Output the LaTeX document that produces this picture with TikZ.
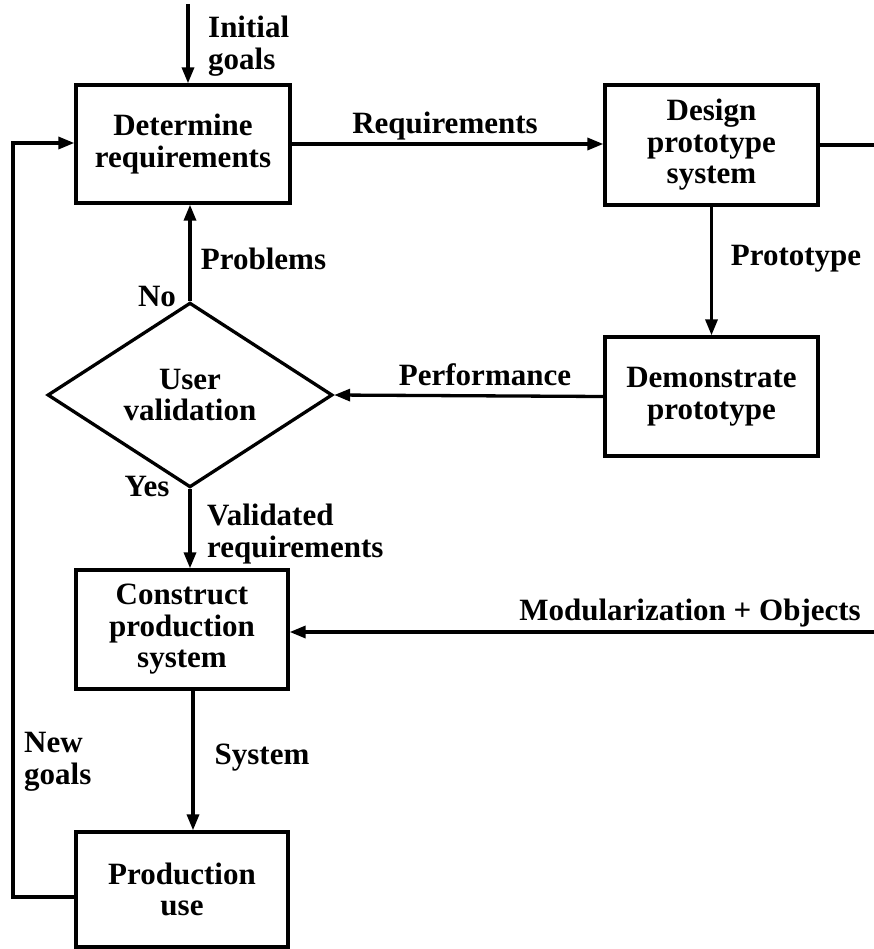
\documentclass[tikz,border=0pt]{standalone}
\usepackage{fontspec}
\setmainfont{Liberation Serif}
\usetikzlibrary{arrows.meta,shapes.geometric}
\begin{document}
\begin{tikzpicture}[x=1pt,y=-1pt,
  every node/.style={font=\fontsize{31}{31.5}\selectfont\bfseries},
  box/.style={draw,line width=3.3pt,align=center,inner sep=0pt},
  lbl/.style={inner sep=0pt,align=left},
  arr/.style={line width=3.3pt,-{Triangle[length=16pt,width=12pt]}},
  ln/.style={line width=3.3pt}]
\useasboundingbox (0,0) rectangle (874,949);

% boxes
\node[box,minimum width=214pt,minimum height=118pt] (DR) at (183,144) {Determine\\requirements};
\node[box,minimum width=213pt,minimum height=120pt] (Design) at (711.5,145) {Design\\prototype\\system};
\node[box,minimum width=213pt,minimum height=119pt] (Demo) at (711.5,396.5) {Demonstrate\\prototype};
\node[box,diamond,minimum width=285pt,minimum height=164pt] (UV) at (190,395) {User\\validation};
\node[box,minimum width=212pt,minimum height=119pt] (CP) at (182,629.5) {Construct\\production\\system};
\node[box,minimum width=212pt,minimum height=115pt] (PU) at (182,889.5) {Production\\use};

% free ends
\coordinate (ig) at (188,4);
\coordinate (r1) at (874,144);
\coordinate (r2) at (874,632);
\coordinate (sx) at (193,0);
\coordinate (fb1) at (13,897);
\coordinate (fb2) at (13,143);

% connectors
\draw[arr] (ig) -- (ig |- DR.north);
\draw[arr] (DR.east) -- (DR.east -| Design.west);
\draw[ln] (Design.east) -- (Design.east -| r1);
\draw[arr] (Design.south) -- (Demo.north);
\draw[arr] (Demo.west) -- (UV.east);
\draw[arr] (UV.north) -- (UV.north |- DR.south);
\draw[arr] (UV.south) -- (UV.south |- CP.north);
\draw[arr] (r2) -- (r2 -| CP.east);
\draw[arr] (sx |- CP.south) -- (sx |- PU.north);
\draw[arr] (fb1 -| PU.west) -- (fb1) -- (fb2) -- (fb2 -| DR.west);

% labels
\node[lbl,anchor=west] (tIG) at (208,46) {Initial\\goals};
\node[lbl] (tReq) at (445,126) {Requirements};
\node[lbl] (tProt) at (796,259) {Prototype};
\node[lbl] (tPerf) at (485,375) {Performance};
\node[lbl] (tProb) at (263.5,259) {Problems};
\node[lbl] (tNo) at (157,297) {No};
\node[lbl] (tYes) at (147,486) {Yes};
\node[lbl,anchor=west] (tVal) at (207,534) {Validated\\requirements};
\node[lbl] (tMod) at (690,613) {Modularization + Objects};
\node[lbl] (tSys) at (262,758) {System};
\node[lbl,anchor=west] (tNG) at (24,762) {New\\goals};
\end{tikzpicture}
\end{document}
